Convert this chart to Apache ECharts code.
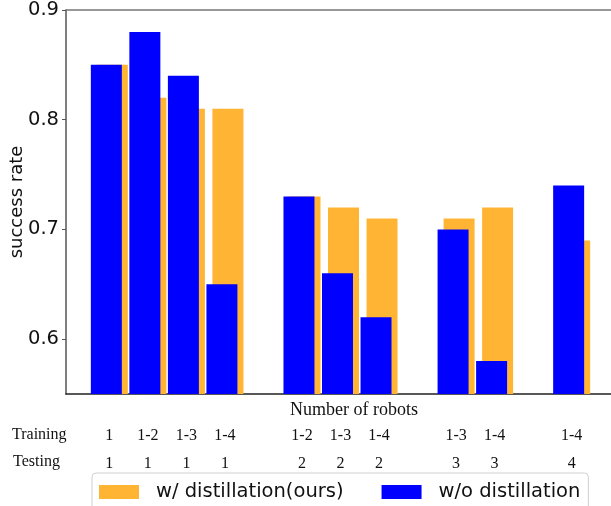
<!DOCTYPE html>
<html>
<head>
<meta charset="utf-8">
<script src="https://cdn.jsdelivr.net/npm/echarts@6/dist/echarts.min.js"></script>
<style>html,body{margin:0;padding:0;background:#fff;}#c{width:611px;height:506px;}</style>
</head>
<body>
<div id="c"></div>
<script>
// ---- data ----
const slots = [0, 1, 2, 3, 5, 6, 7, 9, 10, 12];
const trainingLabels = ['1', '1-2', '1-3', '1-4', '1-2', '1-3', '1-4', '1-3', '1-4', '1-4'];
const testingLabels = ['1', '1', '1', '1', '2', '2', '2', '3', '3', '4'];
const withDistillation = [0.85, 0.82, 0.81, 0.81, 0.73, 0.72, 0.71, 0.71, 0.72, 0.69];
const withoutDistillation = [0.85, 0.88, 0.84, 0.65, 0.73, 0.66, 0.62, 0.70, 0.58, 0.74];
const yTicks = [0.6, 0.7, 0.8, 0.9];
const seriesNames = ['w/ distillation(ours)', 'w/o distillation'];

// ---- build category axis (4 sub-categories per slot) ----
const SUB = 4, N = 57;
const cats = [];
const catIndexToBar = {};
for (let j = 0; j < N; j++) cats.push('c' + j);
slots.forEach((s, k) => { catIndexToBar[SUB + SUB * s] = k; });
const blueData = cats.map((c, j) => (j in catIndexToBar) ? withoutDistillation[catIndexToBar[j]] : '-');
const orangeData = cats.map((c, j) => (j in catIndexToBar) ? withDistillation[catIndexToBar[j]] : '-');

const chart = echarts.init(document.getElementById('c'));
chart.setOption({
  animation: false,
  grid: { left: 66, top: 10, right: -4, bottom: 112, containLabel: false, outerBoundsMode: 'none' },
  xAxis: [{
    type: 'category', data: cats, position: 'bottom',
    axisLine: { lineStyle: { color: '#222', width: 1.5 } },
    axisTick: { show: false },
    axisLabel: {
      interval: 0, margin: 28, fontFamily: 'Liberation Serif', fontSize: 16, color: '#111', lineHeight: 28,
      formatter: (v, j) => (j in catIndexToBar) ? trainingLabels[catIndexToBar[j]] + '\n' + testingLabels[catIndexToBar[j]] : ''
    }
  }, {
    type: 'category', data: cats, position: 'top',
    axisLine: { lineStyle: { color: '#777', width: 1.5 } },
    axisTick: { show: false }, axisLabel: { show: false }
  }],
  yAxis: {
    type: 'value', min: 0.55, max: 0.9,
    splitLine: { show: false },
    axisLine: { show: true, lineStyle: { color: '#555', width: 1.5 } },
    axisTick: { show: true, length: 4, customValues: yTicks, lineStyle: { color: '#555' } },
    axisLabel: { customValues: yTicks, fontFamily: 'DejaVu Sans', fontSize: 19.5, color: '#111', margin: 7, formatter: v => v.toFixed(1) }
  },
  legend: {
    data: seriesNames, left: 92, top: 473, icon: 'rect',
    padding: [9, 8, 14, 7], itemGap: 38, itemWidth: 40, itemHeight: 14,
    borderColor: '#d0d0d0', borderWidth: 1, borderRadius: 4,
    textStyle: { fontFamily: 'DejaVu Sans', fontSize: 19.5, color: '#111', padding: [0, 0, 0, 12] }
  },
  graphic: [
    { type: 'text', x: 17, y: 202, rotation: Math.PI / 2, style: { text: 'success rate', font: '18px "DejaVu Sans"', fill: '#111', align: 'center', verticalAlign: 'middle' } },
    { type: 'text', x: 354, y: 410, style: { text: 'Number of robots', font: '18px "Liberation Serif"', fill: '#111', align: 'center', verticalAlign: 'middle' } },
    { type: 'text', left: 12, top: 427, style: { text: 'Training', font: '16px "Liberation Serif"', fill: '#111' } },
    { type: 'text', left: 13, top: 454, style: { text: 'Testing', font: '16px "Liberation Serif"', fill: '#111' } }
  ],
  series: [{
    name: seriesNames[1], type: 'bar', data: blueData, barWidth: 31, barGap: '-80.6%', z: 3,
    itemStyle: { color: '#0000FF' }
  }, {
    name: seriesNames[0], type: 'bar', data: orangeData, barWidth: 31, z: 2,
    itemStyle: { color: '#FFB533' }
  }]
});
</script>
</body>
</html>
